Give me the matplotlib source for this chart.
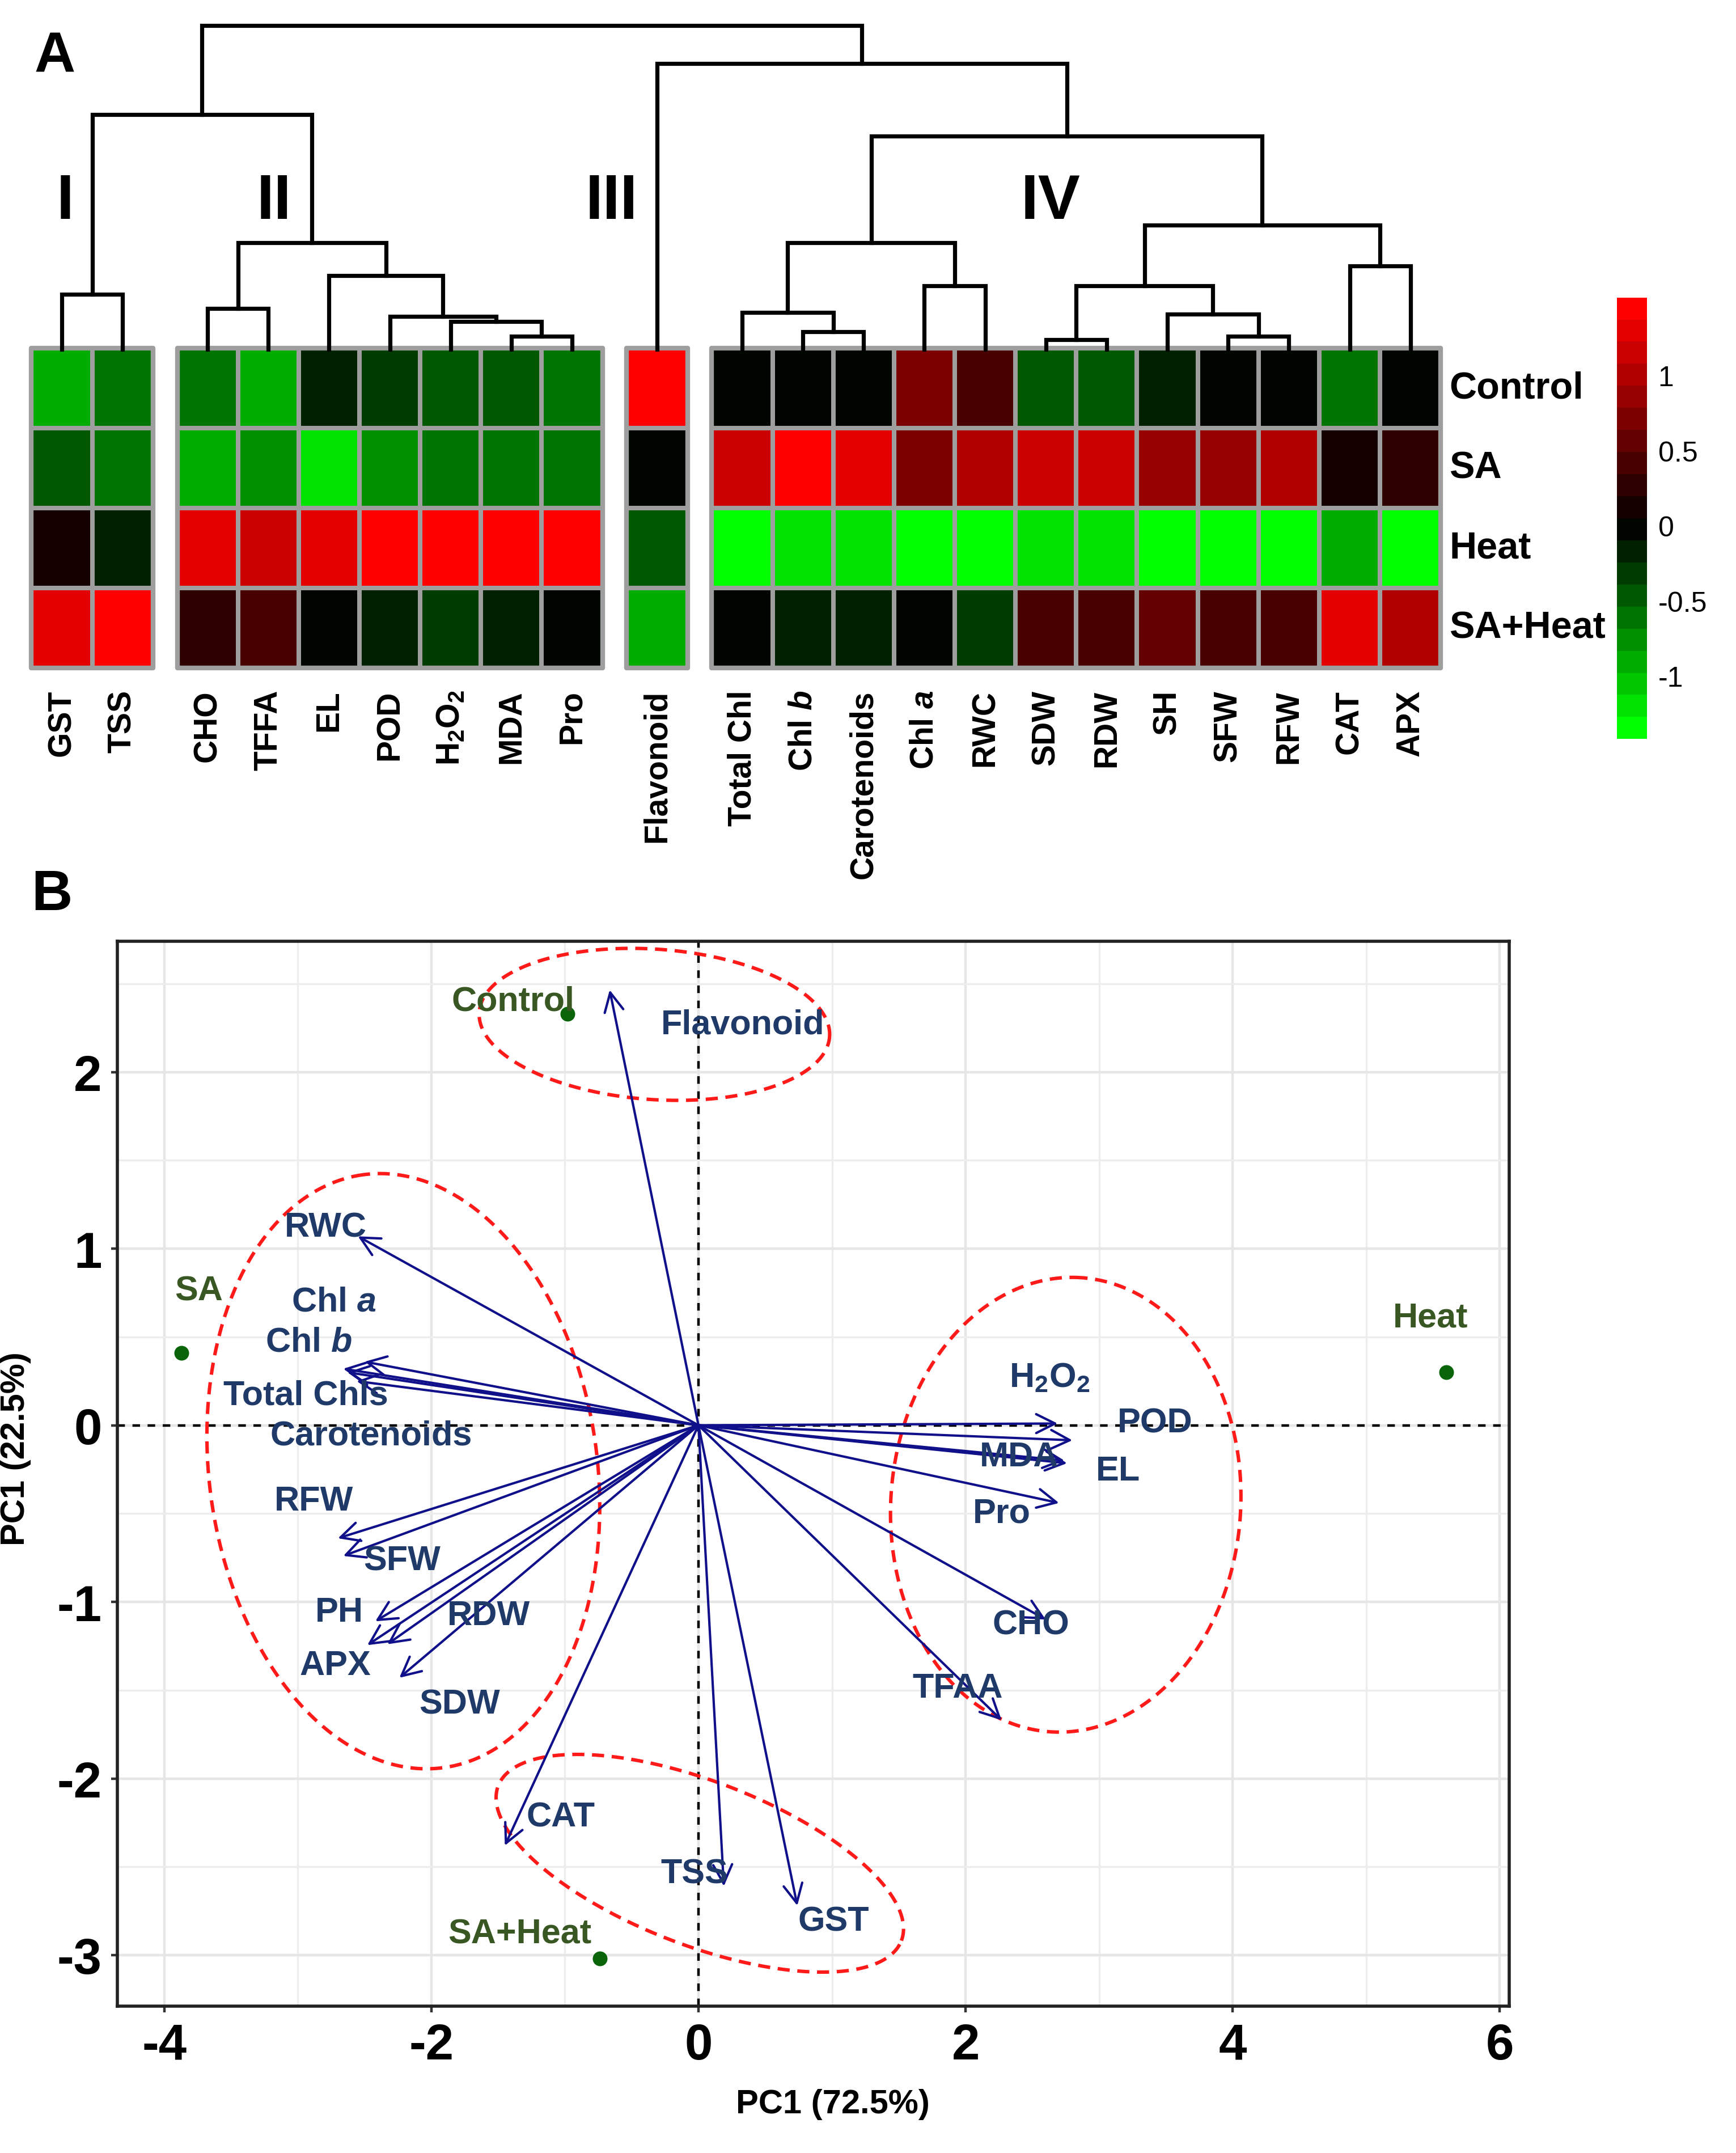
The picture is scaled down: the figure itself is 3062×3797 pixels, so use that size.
import numpy as np
import matplotlib
matplotlib.use('Agg')
import matplotlib.pyplot as plt
from matplotlib.colors import LinearSegmentedColormap, Normalize
from matplotlib.cm import ScalarMappable

plt.rcParams['font.family'] = ['Liberation Sans', 'DejaVu Sans']
plt.rcParams['mathtext.fontset'] = 'custom'
plt.rcParams['mathtext.rm'] = 'Liberation Sans:bold'
plt.rcParams['mathtext.bf'] = 'Liberation Sans:bold'
plt.rcParams['mathtext.it'] = 'Liberation Sans:bold:italic'
plt.rcParams['axes.unicode_minus'] = False

# ------------------------------------------------------------------ data (A)
variables = ['GST', 'TSS', 'CHO', 'TFFA', 'EL', 'POD', 'H2O2', 'MDA', 'Pro',
             'Flavonoid', 'Total Chl', 'Chl b', 'Carotenoids', 'Chl a', 'RWC',
             'SDW', 'RDW', 'SH', 'SFW', 'RFW', 'CAT', 'APX']
var_tick_labels = ['GST', 'TSS', 'CHO', 'TFFA', 'EL', 'POD', r'H$_2$O$_2$', 'MDA', 'Pro',
                   'Flavonoid', 'Total Chl', r'Chl $\mathit{b}$', 'Carotenoids',
                   r'Chl $\mathit{a}$', 'RWC', 'SDW', 'RDW', 'SH', 'SFW', 'RFW', 'CAT', 'APX']
cluster_names = ['I', 'II', 'III', 'IV']
cluster_sizes = [2, 7, 1, 12]
treatments = ['Control', 'SA', 'Heat', 'SA+Heat']

z_control = [-0.96, -0.63, -0.57, -0.96, -0.17, -0.34, -0.51, -0.48, -0.63,
             1.50, 0.00, 0.00, 0.00, 0.65, 0.47, -0.45, -0.45, -0.17, 0.00, 0.00, -0.63, 0.00]
z_sa = [-0.45, -0.63, -0.96, -0.80, -1.14, -0.74, -0.65, -0.63, -0.63,
        0.00, 1.13, 1.50, 1.30, 0.65, 0.94, 1.13, 1.13, 0.82, 0.85, 0.94, 0.18, 0.29]
z_heat = [0.18, -0.17, 1.32, 1.18, 1.32, 1.50, 1.50, 1.50, 1.50,
          -0.45, -1.31, -1.14, -1.14, -1.45, -1.31, -1.14, -1.14, -1.45, -1.45, -1.37, -0.91, -1.45]
z_saheat = [1.32, 1.50, 0.29, 0.47, 0.00, -0.17, -0.34, -0.17, 0.00,
            -0.96, 0.00, -0.17, -0.17, 0.00, -0.34, 0.47, 0.47, 0.59, 0.47, 0.35, 1.35, 0.94]

# dendrogram linkage: (child_a, child_b, height); leaves are 0..21, merges 22..
linkage = [
    (15, 16, 7.0), (7, 8, 9.5), (18, 19, 9.5), (11, 12, 13.0),
    (6, 23, 20.5), (5, 26, 24.0), (17, 24, 26.0), (10, 25, 27.0),
    (2, 3, 30.0), (0, 1, 40.5), (13, 14, 46.5), (22, 28, 46.5),
    (4, 27, 54.0), (20, 21, 61.0), (30, 34, 78.0), (29, 32, 78.0),
    (33, 35, 91.0), (37, 38, 156.0), (31, 36, 172.0), (9, 39, 209.0),
    (40, 41, 237.0),
]

cbar_ticks = [-1, -0.5, 0, 0.5, 1]
cbar_ticklabels = ['-1', '-0.5', '0', '0.5', '1']
z_min, z_max = -1.42, 1.52

# ------------------------------------------------------------------ data (B)
groups = ['Control', 'SA', 'Heat', 'SA+Heat']
score_pc1 = [-0.98, -3.87, 5.60, -0.74]
score_pc2 = [2.33, 0.41, 0.30, -3.02]
group_label_x = [-1.39, -3.74, 5.48, -1.34]
group_label_y = [2.40, 0.76, 0.61, -2.88]

loading_vars = ['Flavonoid', 'RWC', r'Chl $\mathit{a}$', r'Chl $\mathit{b}$', 'Total Chls',
                'Carotenoids', 'RFW', 'SFW', 'PH', 'APX', 'RDW', 'SDW', 'CAT', 'TSS',
                'GST', 'TFAA', 'CHO', r'H$_2$O$_2$', 'POD', 'MDA', 'EL', 'Pro']
load_pc1 = [-0.665, -2.55, -2.50, -2.66, -2.63, -2.56, -2.70, -2.66, -2.42, -2.48,
            -2.33, -2.24, -1.45, 0.19, 0.74, 2.27, 2.60, 2.69, 2.80, 2.76, 2.74, 2.70]
load_pc2 = [2.465, 1.07, 0.36, 0.32, 0.30, 0.25, -0.64, -0.74, -1.11, -1.245,
            -1.24, -1.43, -2.38, -2.61, -2.72, -1.67, -1.10, 0.01, -0.085, -0.215, -0.20, -0.44]
load_label_x = [0.33, -2.79, -2.73, -2.92, -2.94, -2.45, -2.88, -2.22, -2.69, -2.72,
                -1.57, -1.79, -1.03, -0.03, 1.01, 1.94, 2.49, 2.63, 3.42, 2.40, 3.14, 2.27]
load_label_y = [2.27, 1.12, 0.70, 0.47, 0.17, -0.06, -0.43, -0.77, -1.06, -1.36,
                -1.08, -1.58, -2.22, -2.54, -2.81, -1.49, -1.13, 0.27, 0.01, -0.18, -0.26, -0.50]

# ellipse annotations: centre x, centre y, semi-axis a, semi-axis b (PC1 units), angle (deg)
ell_cx = [-0.33, -2.21, 2.75, 0.01]
ell_cy = [2.27, -0.26, -0.45, -2.48]
ell_a = [1.315, 2.24, 1.704, 1.617]
ell_b = [0.563, 1.453, 1.31, 0.614]
ell_ang = [-4.0, 97.7, 86.0, -21.0]

# ------------------------------------------------------------------ figure
W, H = 1270.0, 1575.3  # layout reference units
fig = plt.figure(figsize=(15.31, 18.99), dpi=200)


def fx(d):
    return d / W


def fy(d):
    return 1 - d / H


GAP = 0.4
block_of_col = np.repeat(np.arange(len(cluster_sizes)), cluster_sizes)
col_left = np.arange(len(variables)) + GAP * block_of_col
col_center = col_left + 0.5
x_total = len(variables) + GAP * (len(cluster_sizes) - 1)

cmap = LinearSegmentedColormap.from_list(
    'gbr', [(0.0, '#00FF00'), (-z_min / (z_max - z_min), '#000000'), (1.0, '#FF0000')], N=20)
norm = Normalize(vmin=z_min, vmax=z_max)

Z = np.array([z_control, z_sa, z_heat, z_saheat])

# heatmap
ax_h = fig.add_axes([fx(23), fy(489), fx(1054 - 23), (489 - 255) / H])
ax_h.set_xlim(0, x_total)
ax_h.set_ylim(len(treatments), 0)
ax_h.axis('off')
grey = '#9E9E9E'
start = 0
for bi, n in enumerate(cluster_sizes):
    cols = np.arange(start, start + n)
    xe = col_left[start] + np.arange(n + 1)
    ye = np.arange(len(treatments) + 1)
    ax_h.pcolormesh(xe, ye, Z[:, cols], cmap=cmap, norm=norm,
                    edgecolors=grey, linewidth=2.2, clip_on=False)
    ax_h.add_patch(plt.Rectangle((xe[0], 0), n, len(treatments), fill=False,
                                 ec=grey, lw=3.0, clip_on=False, joinstyle='round'))
    start += n

for i, lab in enumerate(var_tick_labels):
    ax_h.text(col_center[i], len(treatments) + 0.27, lab, rotation=90, ha='center', va='top',
              fontsize=20.5, fontweight='bold', clip_on=False)
for r, t in enumerate(treatments):
    ax_h.text(x_total + 0.14, r + 0.5, t, ha='left', va='center', fontsize=24,
              fontweight='bold', clip_on=False)

# dendrogram
ax_d = fig.add_axes([fx(23), fy(256), fx(1054 - 23), (256 - 19) / H])
ax_d.set_xlim(0, x_total)
ax_d.set_ylim(0, 237)
ax_d.axis('off')
node_x = list(col_center)
node_h = [0.0] * len(variables)
for a, b, h in linkage:
    xa, xb = node_x[a], node_x[b]
    ax_d.plot([xa, xa, xb, xb], [node_h[a], h, h, node_h[b]], color='black', lw=2.6,
              solid_joinstyle='miter', clip_on=False)
    node_x.append((xa + xb) / 2)
    node_h.append(h)

cluster_label_x = [0.56, 3.99, 9.55, 16.78]
for name, cx in zip(cluster_names, cluster_label_x):
    ax_d.text(cx, 108, name, ha='center', va='center', fontsize=40, fontweight='bold')

# colorbar
cax = fig.add_axes([fx(1183), fy(541), fx(1205 - 1183), (541 - 218) / H])
cb = fig.colorbar(ScalarMappable(norm=norm, cmap=cmap), cax=cax)
cb.outline.set_visible(False)
cb.set_ticks(cbar_ticks)
cb.set_ticklabels(cbar_ticklabels)
cax.tick_params(length=0, pad=7, labelsize=18)

fig.text(fx(40), fy(42), 'A', ha='center', va='center', fontsize=36, fontweight='bold')
fig.text(fx(38), fy(655), 'B', ha='center', va='center', fontsize=36, fontweight='bold')

# ------------------------------------------------------------------ PCA biplot
ax = fig.add_axes([fx(86), fy(1468), fx(1104 - 86), (1468 - 689) / H])
ax.set_xlim(-4.35, 6.07)
ax.set_ylim(-3.29, 2.74)
ax.set_xticks([-4, -2, 0, 2, 4, 6])
ax.set_yticks([-3, -2, -1, 0, 1, 2])
ax.set_xticks([-3, -1, 1, 3, 5], minor=True)
ax.set_yticks([-2.5, -1.5, -0.5, 0.5, 1.5, 2.5], minor=True)
ax.grid(True, which='major', color='#E6E6E6', lw=1.6, zorder=0)
ax.grid(True, which='minor', color='#EDEDED', lw=1.2, zorder=0)
ax.set_axisbelow(True)
ax.tick_params(which='minor', length=0)
ax.tick_params(which='major', length=4, width=1.6, color='#333333', labelsize=32, pad=6)
for lab in ax.get_xticklabels() + ax.get_yticklabels():
    lab.set_fontweight('bold')
for s in ax.spines.values():
    s.set_color('#222222')
    s.set_linewidth(2.0)

ax.axhline(0, color='black', lw=1.6, ls=(0, (3, 3)), zorder=1)
ax.axvline(0, color='black', lw=1.6, ls=(0, (3, 3)), zorder=1)

navy = '#10108A'
for x1, y1 in zip(load_pc1, load_pc2):
    ax.annotate('', xy=(x1, y1), xytext=(0, 0),
                arrowprops=dict(arrowstyle='->', color=navy, lw=1.5, mutation_scale=30,
                                shrinkA=0, shrinkB=0), zorder=3)
for lab, lx, ly in zip(loading_vars, load_label_x, load_label_y):
    ax.text(lx, ly, lab, ha='center', va='center', fontsize=22, fontweight='bold',
            color='#1F3A68', zorder=4)

ax.scatter(score_pc1, score_pc2, s=70, color='#0A640A', zorder=5)
for g, lx, ly in zip(groups, group_label_x, group_label_y):
    ax.text(lx, ly, g, ha='center', va='center', fontsize=22, fontweight='bold',
            color='#385723', zorder=5)

# ellipses (shape defined in screen space)
p0 = ax.transData.transform((0, 0))
px = ax.transData.transform((1, 0))[0] - p0[0]
py = ax.transData.transform((0, 1))[1] - p0[1]
t = np.linspace(0, 2 * np.pi, 500)
for cx, cy, a, b, ang in zip(ell_cx, ell_cy, ell_a, ell_b, ell_ang):
    ex = a * px * np.cos(t)
    ey = b * px * np.sin(t)
    th = np.deg2rad(ang)
    X = ex * np.cos(th) - ey * np.sin(th)
    Y = ex * np.sin(th) + ey * np.cos(th)
    ax.plot(cx + X / px, cy + Y / py, color='#FF1A1A', lw=2.2, ls=(0, (3.5, 2.2)), zorder=2)

ax.set_xlabel('PC1 (72.5%)', fontsize=21.5, fontweight='bold')
ax.set_ylabel('PC1 (22.5%)', fontsize=21.5, fontweight='bold')
ax.xaxis.set_label_coords(0.514, -0.077)
ax.yaxis.set_label_coords(-0.062, 0.524)

fig.savefig('out.png', dpi=200)
